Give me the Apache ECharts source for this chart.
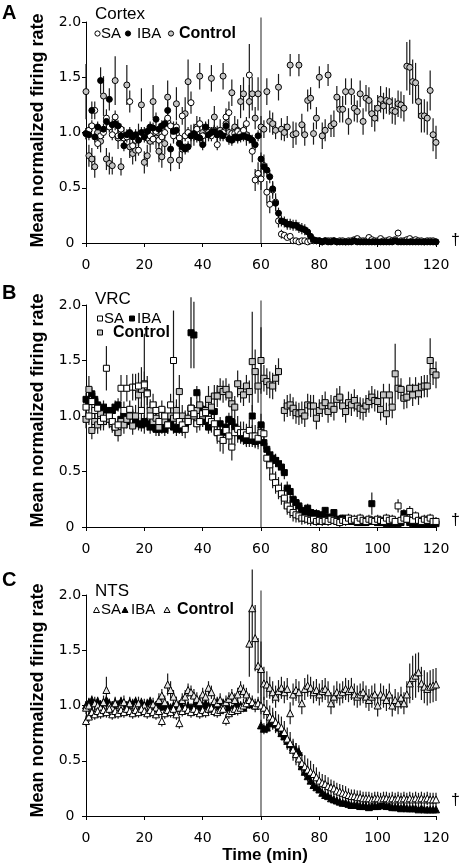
<!DOCTYPE html>
<html><head><meta charset="utf-8">
<script src="https://cdn.jsdelivr.net/npm/echarts@6/dist/echarts.min.js"></script>
<style>html,body{margin:0;padding:0;background:#fff}#c{width:460px;height:868px}</style>
</head><body><div id="c"></div>
<script>
// time points (min)
const minutes = [...Array(121).keys()];
const xTickValues = [0, 20, 40, 60, 80, 100, 120];
const yTickLabels = ['0', '0.5', '1.0', '1.5', '2.0'];
const stimTime = 60;

// ---------- Panel A: Cortex ----------
const ctxControl = [1.37,0.79,0.76,0.69,1.00,0.92,1.33,0.76,0.72,0.70,
 1.47,0.95,0.69,0.95,1.43,0.87,0.81,0.84,0.98,1.25,
 0.73,0.79,0.92,1.28,0.95,0.83,0.78,0.90,1.32,0.75,
 1.00,1.26,0.75,0.85,1.17,1.46,0.97,0.98,1.05,1.51,
 1.00,0.98,1.02,1.49,1.14,0.98,1.02,1.51,1.08,1.00,
 1.36,1.05,1.02,1.28,1.35,0.98,1.28,1.35,1.13,1.35,
 1.05,1.03,1.37,1.10,1.08,1.02,1.41,1.03,1.00,1.05,
 1.61,0.98,0.99,1.61,1.07,0.98,1.29,1.31,0.99,1.13,
 1.50,0.97,1.02,1.52,1.06,1.08,1.32,1.21,1.21,1.37,
 1.10,1.37,1.22,1.19,1.35,1.10,1.31,1.29,1.17,1.13,
 1.22,1.30,1.24,1.29,1.28,1.20,1.19,1.26,1.25,1.22,
 1.60,1.59,1.46,1.45,1.28,1.15,1.15,1.13,1.38,0.98,
 0.91];
const ctxControlErr = [0.25,0.10,0.10,0.10,0.08,0.10,0.18,0.10,0.10,0.08,
 0.22,0.10,0.08,0.10,0.18,0.10,0.10,0.10,0.10,0.15,
 0.10,0.10,0.10,0.15,0.10,0.10,0.10,0.10,0.15,0.10,
 0.10,0.15,0.08,0.10,0.15,0.20,0.10,0.10,0.10,0.12,
 0.08,0.10,0.10,0.12,0.10,0.08,0.10,0.12,0.10,0.08,
 0.12,0.10,0.10,0.15,0.15,0.10,0.15,0.15,0.10,0.15,
 0.10,0.08,0.12,0.10,0.10,0.08,0.12,0.10,0.08,0.10,
 0.10,0.12,0.10,0.10,0.10,0.10,0.10,0.10,0.10,0.10,
 0.10,0.12,0.10,0.10,0.10,0.12,0.10,0.12,0.12,0.12,
 0.12,0.12,0.12,0.10,0.12,0.12,0.12,0.12,0.12,0.12,
 0.12,0.12,0.12,0.12,0.12,0.12,0.12,0.12,0.12,0.12,
 0.22,0.25,0.20,0.18,0.15,0.15,0.15,0.15,0.18,0.15,
 0.15];
const ctxSA = [0.99,1.02,1.06,1.20,0.90,0.97,1.00,1.13,1.05,0.98,
 1.14,0.97,1.03,0.95,0.96,1.28,0.88,0.93,0.84,0.97,
 1.00,0.95,0.97,0.94,1.01,0.93,0.96,1.00,1.13,1.06,
 0.97,1.05,0.95,1.15,0.97,1.00,1.27,0.97,1.03,1.08,
 0.97,1.04,1.00,0.97,1.02,0.89,0.99,1.00,1.14,1.18,
 0.99,0.99,1.01,0.99,1.02,1.08,1.52,0.83,0.57,0.63,
 0.58,0.70,0.46,0.35,0.48,0.37,0.20,0.08,0.07,0.05,
 0.06,0.02,0.02,0.01,0.02,0.02,0.01,0.02,0.02,0.02,
 0.02,0.01,0.02,0.02,0.02,0.02,0.01,0.02,0.02,0.01,
 0.02,0.02,0.03,0.04,0.02,0.02,0.02,0.05,0.03,0.02,
 0.02,0.04,0.02,0.02,0.03,0.02,0.03,0.09,0.02,0.02,
 0.03,0.04,0.02,0.03,0.02,0.02,0.01,0.02,0.02,0.02,
 0.01];
const ctxSAErr = [0.05,0.06,0.05,0.08,0.05,0.05,0.05,0.08,0.05,0.05,
 0.06,0.05,0.05,0.05,0.05,0.10,0.05,0.05,0.05,0.05,
 0.05,0.05,0.05,0.05,0.05,0.05,0.05,0.05,0.08,0.05,
 0.05,0.05,0.05,0.08,0.05,0.05,0.10,0.05,0.05,0.06,
 0.05,0.05,0.05,0.05,0.05,0.05,0.05,0.05,0.08,0.10,
 0.05,0.05,0.05,0.05,0.06,0.06,0.28,0.10,0.10,0.10,
 0.10,0.10,0.10,0.08,0.08,0.08,0.06,0.04,0.03,0.02,
 0.02,0.01,0.01,0.01,0.01,0.01,0.01,0.01,0.01,0.01,
 0.01,0.01,0.01,0.01,0.01,0.01,0.01,0.01,0.01,0.01,
 0.01,0.01,0.01,0.02,0.01,0.01,0.01,0.02,0.01,0.01,
 0.01,0.02,0.01,0.01,0.01,0.01,0.01,0.03,0.01,0.01,
 0.01,0.02,0.01,0.01,0.01,0.01,0.01,0.01,0.01,0.01,
 0.01];
const ctxIBA = [0.99,0.98,1.20,0.96,1.05,1.47,1.03,1.10,1.30,1.07,
 1.08,1.06,0.97,0.88,0.98,1.00,0.96,0.98,0.93,1.00,
 0.96,1.01,1.05,1.04,1.12,1.03,1.06,1.08,1.20,0.85,
 1.01,1.02,0.90,0.87,0.85,0.87,0.97,0.99,0.96,0.95,
 0.89,1.05,0.98,1.00,1.01,0.98,0.99,0.97,1.06,0.94,
 0.93,0.96,0.95,0.96,0.97,0.96,0.95,0.93,0.89,0.97,
 0.76,0.69,0.66,0.60,0.49,0.36,0.27,0.20,0.19,0.17,
 0.17,0.16,0.16,0.14,0.13,0.12,0.10,0.06,0.03,0.02,
 0.02,0.01,0.02,0.01,0.01,0.02,0.01,0.01,0.01,0.01,
 0.01,0.01,0.02,0.01,0.01,0.01,0.01,0.01,0.01,0.01,
 0.01,0.01,0.01,0.01,0.01,0.01,0.02,0.01,0.01,0.01,
 0.01,0.01,0.01,0.01,0.01,0.01,0.01,0.01,0.01,0.01,
 0.01];
const ctxIBAErr = [0.05,0.05,0.08,0.05,0.05,0.12,0.05,0.06,0.10,0.05,
 0.06,0.05,0.05,0.05,0.05,0.05,0.05,0.05,0.05,0.05,
 0.05,0.05,0.05,0.05,0.06,0.05,0.05,0.05,0.08,0.05,
 0.05,0.05,0.05,0.05,0.05,0.05,0.05,0.05,0.05,0.05,
 0.05,0.05,0.05,0.05,0.05,0.05,0.05,0.05,0.05,0.05,
 0.05,0.05,0.05,0.05,0.05,0.05,0.05,0.05,0.05,0.05,
 0.06,0.06,0.06,0.06,0.06,0.06,0.05,0.05,0.05,0.05,
 0.05,0.05,0.05,0.05,0.05,0.05,0.04,0.03,0.02,0.01,
 0.01,0.01,0.01,0.01,0.01,0.01,0.01,0.01,0.01,0.01,
 0.01,0.01,0.01,0.01,0.01,0.01,0.01,0.01,0.01,0.01,
 0.01,0.01,0.01,0.01,0.01,0.01,0.01,0.01,0.01,0.01,
 0.01,0.01,0.01,0.01,0.01,0.01,0.01,0.01,0.01,0.01,
 0.01];

// ---------- Panel B: VRC ----------
const vrcControl = [0.97,1.24,0.87,0.95,0.92,1.02,0.95,1.00,0.97,0.93,
 0.90,0.85,0.95,0.92,0.97,1.00,0.91,1.00,1.19,1.24,
 1.29,1.21,1.05,0.95,0.98,0.90,0.95,0.95,0.92,1.00,
 0.98,1.05,1.22,1.00,0.95,0.98,1.07,1.00,1.05,1.10,
 1.00,1.05,1.15,1.08,1.18,1.18,1.24,1.22,1.24,1.19,
 1.11,1.08,1.29,1.22,1.19,1.27,1.22,1.49,1.40,1.27,
 1.50,1.34,1.31,1.28,1.27,1.34,1.40,null,1.05,1.09,
 1.10,1.07,1.03,1.02,1.03,1.00,1.10,1.09,1.09,0.98,
 1.05,1.09,1.12,1.04,1.09,1.06,1.15,1.17,1.09,1.04,
 1.12,1.10,1.14,1.09,1.07,1.06,1.09,1.13,1.17,1.14,
 1.13,1.06,1.19,1.02,1.19,1.08,1.38,1.25,1.24,1.16,
 1.17,1.25,1.19,1.25,1.20,1.26,1.27,1.27,1.50,1.40,
 1.37];
const vrcControlErr = [0.08,0.12,0.08,0.08,0.08,0.08,0.08,0.08,0.08,0.08,
 0.08,0.08,0.08,0.08,0.08,0.08,0.08,0.10,0.12,0.20,
 0.45,0.15,0.10,0.08,0.08,0.08,0.08,0.08,0.08,0.10,
 0.10,0.10,0.15,0.10,0.10,0.10,0.10,0.10,0.10,0.12,
 0.10,0.10,0.12,0.10,0.10,0.10,0.10,0.10,0.10,0.10,
 0.10,0.10,0.12,0.10,0.10,0.10,0.10,0.45,0.20,0.15,
 0.30,0.12,0.12,0.12,0.12,0.12,0.12,0,0.10,0.10,
 0.10,0.10,0.10,0.10,0.10,0.10,0.10,0.10,0.10,0.10,
 0.10,0.10,0.10,0.10,0.10,0.10,0.10,0.10,0.10,0.10,
 0.10,0.10,0.10,0.10,0.10,0.10,0.10,0.10,0.10,0.10,
 0.10,0.10,0.10,0.10,0.10,0.10,0.27,0.10,0.10,0.10,
 0.10,0.10,0.10,0.10,0.10,0.10,0.10,0.10,0.20,0.12,
 0.12];
const vrcSA = [1.08,1.00,1.13,1.05,1.07,0.95,0.98,1.43,1.00,0.95,
 0.90,0.92,1.25,1.05,1.25,1.06,1.26,1.26,1.27,1.05,
 1.28,1.20,1.00,1.10,1.05,0.95,1.06,1.00,0.92,1.10,
 1.50,1.00,0.95,0.92,0.88,0.95,1.07,1.02,0.93,0.95,
 1.02,1.03,0.97,0.95,0.93,0.85,0.80,0.78,0.87,0.82,
 0.72,0.85,0.88,0.85,0.85,0.83,0.87,0.82,0.82,0.80,
 0.85,0.84,0.62,0.56,0.45,0.40,0.35,0.30,0.26,0.19,
 0.16,0.13,0.11,0.10,0.08,0.08,0.07,0.06,0.07,0.05,
 0.06,0.05,0.06,0.05,0.07,0.06,0.05,0.04,0.06,0.05,
 0.08,0.06,0.07,0.05,0.08,0.06,0.05,0.07,0.06,0.05,
 0.07,0.06,0.05,0.08,0.06,0.07,0.05,0.19,0.06,0.08,
 0.07,0.14,0.06,0.10,0.06,0.05,0.07,0.06,0.08,0.05,
 0.05];
const vrcSAErr = [0.08,0.08,0.08,0.08,0.08,0.08,0.08,0.20,0.08,0.08,
 0.08,0.08,0.12,0.08,0.12,0.08,0.12,0.12,0.12,0.08,
 0.12,0.10,0.08,0.10,0.08,0.08,0.08,0.08,0.08,0.10,
 0.45,0.10,0.08,0.08,0.08,0.08,0.10,0.08,0.08,0.08,
 0.08,0.08,0.08,0.10,0.10,0.10,0.12,0.12,0.12,0.12,
 0.12,0.12,0.12,0.10,0.10,0.10,0.10,0.10,0.10,0.10,
 0.10,0.10,0.10,0.10,0.10,0.10,0.10,0.10,0.10,0.08,
 0.08,0.08,0.07,0.06,0.06,0.05,0.05,0.05,0.05,0.04,
 0.04,0.04,0.04,0.04,0.04,0.04,0.04,0.04,0.04,0.04,
 0.04,0.04,0.04,0.04,0.04,0.04,0.04,0.04,0.04,0.04,
 0.04,0.04,0.04,0.04,0.04,0.04,0.04,0.06,0.04,0.04,
 0.04,0.05,0.04,0.04,0.04,0.04,0.04,0.04,0.04,0.04,
 0.04];
const vrcIBA = [1.15,1.13,1.20,1.15,1.10,1.05,1.08,1.05,1.02,1.05,
 1.08,1.10,0.97,1.00,0.95,1.02,1.00,0.95,0.93,0.92,
 0.95,0.93,0.90,0.92,0.88,0.88,0.90,0.88,0.92,0.95,
 0.90,0.88,0.90,0.88,0.92,0.95,1.75,1.73,1.21,1.05,
 1.06,0.95,0.90,1.05,1.04,0.85,0.93,0.85,0.90,0.97,
 0.95,0.90,0.85,0.82,0.80,0.78,0.78,1.00,0.77,0.78,
 0.92,0.76,0.70,0.65,0.62,0.60,0.57,0.54,0.49,0.35,
 0.32,0.25,0.22,0.19,0.15,0.14,0.17,0.13,0.12,0.12,
 0.10,0.11,0.15,0.09,0.08,0.13,0.07,0.07,0.08,0.06,
 0.05,0.05,0.05,0.04,0.04,0.04,0.04,0.05,0.21,0.05,
 0.04,0.04,0.04,0.03,0.04,0.03,0.04,0.03,0.04,0.12,
 0.07,0.04,0.03,0.03,0.03,0.03,0.03,0.03,0.03,0.03,
 0.03];
const vrcIBAErr = [0.06,0.06,0.06,0.06,0.06,0.06,0.06,0.06,0.06,0.06,
 0.06,0.06,0.06,0.06,0.06,0.06,0.06,0.06,0.06,0.06,
 0.06,0.06,0.06,0.06,0.06,0.06,0.06,0.06,0.06,0.06,
 0.06,0.06,0.06,0.06,0.06,0.06,0.32,0.30,0.06,0.06,
 0.06,0.06,0.06,0.06,0.06,0.06,0.06,0.06,0.06,0.06,
 0.06,0.06,0.06,0.06,0.06,0.06,0.06,0.10,0.06,0.06,
 0.10,0.06,0.06,0.06,0.06,0.06,0.06,0.06,0.06,0.06,
 0.06,0.05,0.05,0.05,0.05,0.04,0.04,0.04,0.04,0.04,
 0.03,0.03,0.03,0.03,0.03,0.03,0.03,0.03,0.03,0.03,
 0.03,0.03,0.03,0.03,0.03,0.03,0.03,0.03,0.10,0.03,
 0.03,0.03,0.03,0.02,0.02,0.02,0.02,0.02,0.02,0.04,
 0.02,0.02,0.02,0.02,0.02,0.02,0.02,0.02,0.02,0.02,
 0.02];

// ---------- Panel C: NTS ----------
const ntsControl = [0.98,1.00,0.95,1.02,1.00,0.98,1.03,1.14,1.00,0.98,
 1.02,0.97,1.00,1.03,0.98,1.02,0.96,1.00,1.02,0.98,
 1.00,0.97,0.99,1.01,0.98,1.05,1.09,1.03,1.19,1.14,
 1.08,1.02,0.98,1.05,1.08,1.14,1.12,1.09,1.06,1.03,
 1.10,1.08,1.16,1.12,1.04,1.02,1.05,1.00,1.03,1.06,
 1.09,1.05,1.10,1.16,1.13,1.10,1.56,1.88,1.61,1.36,
 1.33,1.20,1.19,1.16,1.12,1.08,1.13,1.16,1.12,1.15,
 0.93,1.10,1.14,1.12,1.02,1.15,1.18,1.16,1.12,1.14,
 1.10,1.13,1.15,1.12,1.02,1.08,1.12,1.10,1.12,1.15,
 1.13,1.15,1.10,1.08,1.10,1.12,1.08,1.05,1.08,1.10,
 1.00,1.10,1.08,1.05,1.10,1.00,1.05,1.02,1.07,1.02,
 1.10,1.20,1.25,1.27,1.30,1.20,1.17,1.15,1.17,1.18,
 1.19];
const ntsControlErr = [0.06,0.06,0.06,0.06,0.06,0.06,0.06,0.12,0.06,0.06,
 0.06,0.06,0.06,0.06,0.06,0.06,0.06,0.06,0.06,0.06,
 0.06,0.06,0.06,0.06,0.06,0.06,0.06,0.06,0.10,0.08,
 0.06,0.06,0.06,0.06,0.06,0.06,0.06,0.06,0.06,0.06,
 0.06,0.06,0.06,0.06,0.06,0.06,0.06,0.06,0.06,0.06,
 0.06,0.06,0.06,0.06,0.06,0.06,0.30,0.35,0.30,0.25,
 0.25,0.15,0.12,0.10,0.10,0.10,0.10,0.10,0.10,0.10,
 0.10,0.10,0.10,0.10,0.10,0.10,0.10,0.10,0.10,0.10,
 0.10,0.10,0.10,0.10,0.10,0.10,0.10,0.10,0.10,0.10,
 0.10,0.10,0.10,0.10,0.10,0.10,0.10,0.10,0.10,0.10,
 0.10,0.10,0.10,0.10,0.10,0.10,0.10,0.10,0.10,0.10,
 0.12,0.18,0.20,0.20,0.18,0.15,0.15,0.15,0.15,0.15,
 0.15];
const ntsSA = [0.86,0.90,0.94,0.92,0.95,0.93,0.96,0.94,0.97,0.92,
 0.95,0.93,0.96,0.94,0.97,0.95,0.93,0.96,0.94,0.97,
 0.95,0.93,0.96,0.94,0.92,0.95,0.86,0.93,0.96,0.94,
 0.97,0.92,0.84,0.95,0.98,0.96,0.94,0.97,0.95,0.93,
 0.96,0.94,0.97,0.98,0.95,0.94,0.96,0.97,0.87,0.93,
 0.95,0.97,0.96,0.98,1.00,1.02,1.05,1.03,1.00,1.02,
 1.00,0.98,0.95,0.90,0.88,0.85,0.82,0.80,0.76,0.70,
 0.66,0.60,0.56,0.52,0.48,0.45,0.42,0.40,0.38,0.35,
 0.32,0.30,0.29,0.27,0.26,0.25,0.23,0.22,0.21,0.20,
 0.19,0.18,0.18,0.17,0.17,0.16,0.16,0.16,0.15,0.16,
 0.16,0.15,0.16,0.16,0.15,0.16,0.15,0.16,0.15,0.16,
 0.15,0.16,0.15,0.16,0.15,0.16,0.15,0.16,0.15,0.15,
 0.15];
const ntsSAErr = [0.05,0.05,0.05,0.05,0.05,0.05,0.05,0.05,0.05,0.05,
 0.05,0.05,0.05,0.05,0.05,0.05,0.05,0.05,0.05,0.05,
 0.05,0.05,0.05,0.05,0.05,0.05,0.05,0.05,0.05,0.05,
 0.05,0.05,0.05,0.05,0.05,0.05,0.05,0.05,0.05,0.05,
 0.05,0.05,0.05,0.05,0.05,0.05,0.05,0.05,0.05,0.05,
 0.05,0.05,0.05,0.05,0.06,0.06,0.06,0.06,0.06,0.06,
 0.08,0.10,0.10,0.10,0.10,0.10,0.10,0.10,0.10,0.10,
 0.10,0.10,0.10,0.10,0.10,0.10,0.10,0.10,0.09,0.09,
 0.08,0.08,0.08,0.08,0.07,0.07,0.07,0.07,0.07,0.07,
 0.06,0.06,0.06,0.06,0.06,0.06,0.06,0.06,0.06,0.06,
 0.06,0.06,0.06,0.06,0.06,0.06,0.06,0.06,0.06,0.06,
 0.06,0.06,0.06,0.06,0.06,0.06,0.06,0.06,0.06,0.06,
 0.06];
const ntsIBA = [1.00,1.03,1.05,1.02,1.04,1.01,1.03,1.05,1.02,1.00,
 1.03,1.01,1.04,1.02,1.00,1.03,1.02,1.04,1.01,1.03,
 1.00,1.02,1.04,1.01,1.00,1.02,0.99,1.01,1.00,0.98,
 1.00,0.98,1.01,0.99,0.97,1.00,0.98,1.00,1.01,0.99,
 1.00,1.02,1.00,0.99,1.01,1.03,1.00,1.02,1.00,0.98,
 0.97,0.99,1.01,1.00,0.98,1.02,1.01,1.03,1.00,1.02,
 0.82,0.79,0.80,0.84,0.88,0.83,0.80,0.75,0.72,0.68,
 0.65,0.62,0.60,0.58,0.45,0.40,0.36,0.32,0.28,0.26,
 0.24,0.21,0.19,0.18,0.16,0.15,0.14,0.13,0.12,0.12,
 0.11,0.10,0.10,0.10,0.09,0.09,0.09,0.08,0.09,0.09,
 0.09,0.10,0.10,0.09,0.09,0.08,0.08,0.08,0.07,0.08,
 0.07,0.07,0.07,0.07,0.06,0.07,0.06,0.06,0.06,0.06,
 0.06];
const ntsIBAErr = [0.04,0.04,0.04,0.04,0.04,0.04,0.04,0.04,0.04,0.04,
 0.04,0.04,0.04,0.04,0.04,0.04,0.04,0.04,0.04,0.04,
 0.04,0.04,0.04,0.04,0.04,0.04,0.04,0.04,0.04,0.04,
 0.04,0.04,0.04,0.04,0.04,0.04,0.04,0.04,0.04,0.04,
 0.04,0.04,0.04,0.04,0.04,0.04,0.04,0.04,0.04,0.04,
 0.04,0.04,0.04,0.04,0.04,0.04,0.04,0.04,0.04,0.04,
 0.05,0.05,0.05,0.06,0.06,0.06,0.06,0.06,0.06,0.06,
 0.06,0.06,0.06,0.06,0.05,0.05,0.05,0.04,0.04,0.04,
 0.03,0.03,0.03,0.03,0.03,0.03,0.03,0.02,0.02,0.02,
 0.02,0.02,0.02,0.02,0.02,0.02,0.02,0.02,0.02,0.02,
 0.02,0.02,0.02,0.02,0.02,0.02,0.02,0.02,0.02,0.02,
 0.02,0.02,0.02,0.02,0.02,0.02,0.02,0.02,0.02,0.02,
 0.02];

const panels = [
  {name:'Cortex', letter:'A', symbol:'circle', size:6,
   ctrl:ctxControl, ctrlErr:ctxControlErr, sa:ctxSA, saErr:ctxSAErr, iba:ctxIBA, ibaErr:ctxIBAErr,
   ctrlFill:'#c4c4c4', z:{ctrl:3, sa:4, iba:5}},
  {name:'VRC', letter:'B', symbol:'rect', size:6,
   ctrl:vrcControl, ctrlErr:vrcControlErr, sa:vrcSA, saErr:vrcSAErr, iba:vrcIBA, ibaErr:vrcIBAErr,
   ctrlFill:'#c4c4c4', z:{ctrl:4, sa:5, iba:3}},
  {name:'NTS', letter:'C', symbol:'triangle', size:7,
   ctrl:ntsControl, ctrlErr:ntsControlErr, sa:ntsSA, saErr:ntsSAErr, iba:ntsIBA, ibaErr:ntsIBAErr,
   ctrlFill:'#e6e6e6', z:{ctrl:4, sa:5, iba:3}}
];

const gridDefs = [
  {left:86, top:22, width:350, height:221},
  {left:86, top:305, width:350, height:222},
  {left:86, top:595, width:350, height:221}
];

const tickFont = 'DejaVu Sans';
const xAxes = [], yAxes = [], series = [];
panels.forEach((p, i) => {
  xAxes.push({type:'value', gridIndex:i, min:0, max:120, interval:20,
    axisLine:{lineStyle:{color:'#000', width:1}},
    axisTick:{length:4, lineStyle:{color:'#000'}},
    axisLabel:{color:'#000', fontSize:14, fontFamily:tickFont, margin:15},
    splitLine:{show:false}});
  yAxes.push({type:'value', gridIndex:i, min:0, max:2, interval:0.5,
    axisLine:{show:true, lineStyle:{color:'#000', width:1}},
    axisTick:{show:true, length:4, lineStyle:{color:'#000'}},
    axisLabel:{color:'#000', fontSize:14, fontFamily:tickFont, align:'center', margin:16,
      formatter:v => yTickLabels[Math.round(v / 0.5)]},
    splitLine:{show:false}});
  // vertical line at stimulus time
  series.push({type:'custom', xAxisIndex:i, yAxisIndex:i, z:1, silent:true,
    data:[[stimTime]],
    renderItem:(params, api) => {
      const a = api.coord([api.value(0), 0]);
      const b = api.coord([api.value(0), 2.04]);
      return {type:'line', shape:{x1:a[0], y1:a[1], x2:b[0], y2:b[1]},
        style:{stroke:'#555', lineWidth:1.3}};
    }});
  const groups = [
    {vals:p.ctrl, errs:p.ctrlErr, fill:p.ctrlFill, z:p.z.ctrl},
    {vals:p.sa, errs:p.saErr, fill:'#ffffff', z:p.z.sa},
    {vals:p.iba, errs:p.ibaErr, fill:'#000000', z:p.z.iba}
  ];
  groups.forEach(g => {
    const pts = [], errPts = [];
    minutes.forEach((t, k) => {
      if (g.vals[k] == null) return;
      pts.push([t, g.vals[k]]);
      errPts.push([t, g.vals[k], g.errs[k] || 0]);
    });
    series.push({type:'custom', xAxisIndex:i, yAxisIndex:i, z:2, silent:true,
      data:errPts,
      renderItem:(params, api) => {
        const x = api.value(0), y = api.value(1), e = api.value(2);
        const a = api.coord([x, Math.max(0, y - e)]);
        const b = api.coord([x, y + e]);
        return {type:'line', shape:{x1:a[0], y1:a[1], x2:b[0], y2:b[1]},
          style:{stroke:'#1a1a1a', lineWidth:1.2}};
      }});
    series.push({type:'scatter', xAxisIndex:i, yAxisIndex:i, z:g.z, silent:true,
      symbol:p.symbol, symbolSize:p.size, data:pts,
      itemStyle:{color:g.fill, borderColor:'#000', borderWidth:1, opacity:1}});
  });
});

// text & legend decorations
const lab = 'Liberation Sans';
function txt(text, x, y, font, extra) {
  return Object.assign({type:'text', x:x, y:y, silent:true,
    style:{text:text, font:font, fill:'#000', align:'left', verticalAlign:'middle'}}, extra || {});
}
const graphics = [];
const legendY = [33.5, 318.5, 610];
const titleY = [14.5, 299, 591];
const letterY = [13, 293.5, 580.5];
const ytitleY = [130.5, 410.5, 700.5];
const daggerY = [241, 521, 801];
panels.forEach((p, i) => {
  graphics.push(txt(p.letter, 2, letterY[i], 'bold 20px "' + lab + '"'));
  graphics.push(txt(p.name, 95, titleY[i], '17px "' + lab + '"'));
  graphics.push(txt('Mean normalized firing rate', 38, ytitleY[i], 'bold 18px "' + lab + '"',
    {rotation:Math.PI / 2, style:{text:'Mean normalized firing rate', font:'bold 18px "' + lab + '"',
      fill:'#000', align:'center', verticalAlign:'middle'}}));
  graphics.push(txt('\u2020', 451, daggerY[i], '16px "' + lab + '"'));
});
graphics.push({type:'text', x:265, y:855, silent:true,
  style:{text:'Time (min)', font:'bold 17px "' + lab + '"', fill:'#000', align:'center', verticalAlign:'middle'}});

// legend A (circles)
(function(){
  const y = legendY[0];
  graphics.push({type:'circle', shape:{cx:97.5, cy:y, r:2.6}, style:{fill:'#fff', stroke:'#000', lineWidth:1}});
  graphics.push(txt('SA', 101, y, '15px "' + lab + '"'));
  graphics.push({type:'circle', shape:{cx:128, cy:y, r:2.6}, style:{fill:'#000', stroke:'#000', lineWidth:1}});
  graphics.push(txt('IBA', 137, y, '15px "' + lab + '"'));
  graphics.push({type:'circle', shape:{cx:171, cy:y, r:2.6}, style:{fill:'#c4c4c4', stroke:'#000', lineWidth:1}});
  graphics.push(txt('Control', 179, y, 'bold 16px "' + lab + '"'));
})();
// legend B (squares)
(function(){
  const y1 = legendY[1], y2 = 332.5;
  graphics.push({type:'rect', shape:{x:97.5, y:y1 - 2.5, width:5, height:5}, style:{fill:'#fff', stroke:'#000', lineWidth:1}});
  graphics.push(txt('SA', 104, y1, '15px "' + lab + '"'));
  graphics.push({type:'rect', shape:{x:129.5, y:y1 - 2.5, width:5, height:5}, style:{fill:'#000', stroke:'#000', lineWidth:1}});
  graphics.push(txt('IBA', 137, y1, '15px "' + lab + '"'));
  graphics.push({type:'rect', shape:{x:97.5, y:y2 - 2.5, width:5, height:5}, style:{fill:'#c4c4c4', stroke:'#000', lineWidth:1}});
  graphics.push(txt('Control', 113, y2, 'bold 16px "' + lab + '"'));
})();
// legend C (triangles)
(function(){
  const y = legendY[2];
  const tri = (cx, fill) => ({type:'polygon', shape:{points:[[cx, y - 3], [cx + 3, y + 2.5], [cx - 3, y + 2.5]]},
    style:{fill:fill, stroke:'#000', lineWidth:1}});
  graphics.push(tri(96.5, '#fff'));
  graphics.push(txt('SA', 101, y, '15px "' + lab + '"'));
  graphics.push(tri(125, '#000'));
  graphics.push(txt('IBA', 131, y, '15px "' + lab + '"'));
  graphics.push(tri(167, '#e6e6e6'));
  graphics.push(txt('Control', 177, y, 'bold 16px "' + lab + '"'));
})();

const chart = echarts.init(document.getElementById('c'), null, {renderer:'canvas'});
chart.setOption({
  animation:false,
  backgroundColor:'#fff',
  grid:gridDefs,
  xAxis:xAxes,
  yAxis:yAxes,
  series:series,
  graphic:graphics
});
</script></body></html>
